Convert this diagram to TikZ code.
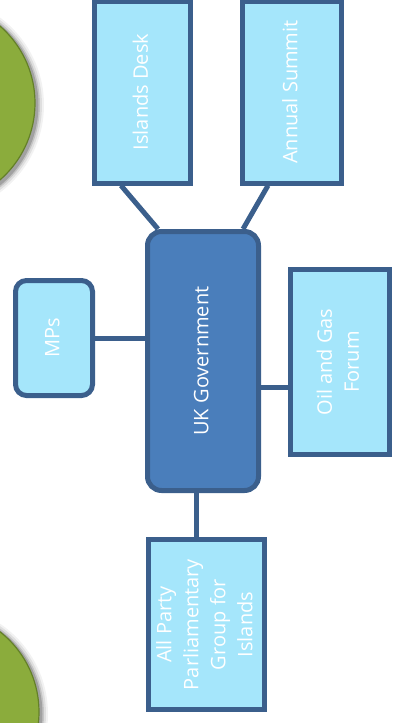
\documentclass[tikz,border=0pt]{standalone}
\usepackage{fontspec}
\setmainfont{Open Sans}
\usetikzlibrary{calc,backgrounds}
\definecolor{bordblue}{RGB}{59,95,140}
\definecolor{lightbox}{RGB}{165,230,251}
\definecolor{midblue}{RGB}{74,126,187}
\definecolor{olive}{RGB}{139,172,60}
\definecolor{olivedark}{RGB}{100,128,40}
\tikzset{
  box/.style={draw=bordblue, line width=5pt, fill=lightbox, text=white, inner sep=0pt, font=\fontsize{20}{27}\selectfont, align=center},
  govbox/.style={box, fill=midblue, rounded corners=14pt},
  mpbox/.style={box, rounded corners=11pt},
  conn/.style={draw=bordblue, line width=5pt},
  ball/.style={fill=olive, draw=olivedark, line width=1.2pt}
}
\newcommand{\vtext}[1]{\rotatebox{90}{\begin{tabular}{@{}c@{}}#1\end{tabular}}}
\begin{document}
\begin{tikzpicture}[x=1pt,y=-1pt]
\useasboundingbox (0,0) rectangle (393,723);
\clip (0,0) rectangle (393,723);
% green balls with soft shadow
\foreach \r/\o in {109/0.05,107/0.08,105/0.12,103.5/0.18}{
  \fill[black,opacity=\o] (-65,105) circle (\r);
  \fill[black,opacity=\o] (-61,714) circle (\r);
}
\path[ball] (-67,103) circle (102);
\path[ball] (-63,712) circle (102);
% nodes
\node[box, minimum width=96pt, minimum height=182pt] (ID) at (142.5,92) {\vtext{Islands Desk}};
\node[box, minimum width=99pt, minimum height=182pt] (AS) at (292,92) {\vtext{Annual Summit}};
\node[govbox, minimum width=111pt, minimum height=259pt] (UK) at (203,361) {\vtext{UK Government}};
\node[box, minimum width=99pt, minimum height=185pt] (OG) at (340,362) {\vtext{Oil and Gas\\Forum}};
\node[mpbox, minimum width=77pt, minimum height=115pt] (MP) at (54,338) {\vtext{MPs}};
\node[box, minimum width=116pt, minimum height=170pt] (AP) at (206.5,624.5) {\vtext{All Party\\Parliamentary\\Group for\\Islands}};
% connectors (behind nodes)
\begin{scope}[on background layer]
\draw[conn] ([xshift=-21.5pt]ID.south) -- ([xshift=-45pt]UK.north);
\draw[conn] ([xshift=-24pt]AS.south) -- ([xshift=40pt]UK.north);
\draw[conn] (MP.east) -- (MP.east -| UK.west);
\draw[conn] ([yshift=-26pt]UK.east) -- ([yshift=-25pt]OG.west);
\draw[conn] ([xshift=-7pt]UK.south) -- ([xshift=-10.5pt]AP.north);
\end{scope}
\end{tikzpicture}
\end{document}
